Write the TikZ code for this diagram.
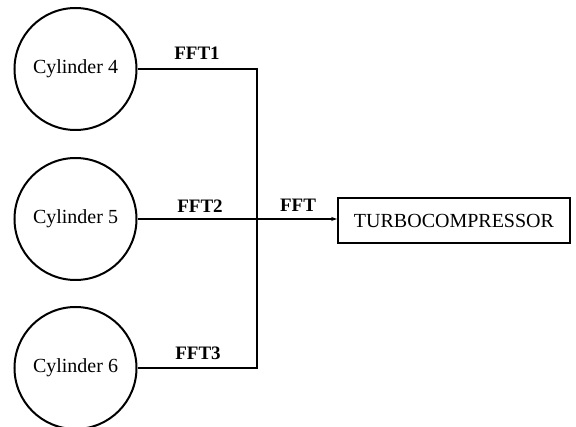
\documentclass[tikz,border=0pt]{standalone}
\usepackage{fontspec}
\setmainfont{Liberation Serif}
\usetikzlibrary{arrows.meta}
\begin{document}
\begin{tikzpicture}[x=1pt,y=-1pt,
  cyl/.style={circle,draw,line width=2pt,minimum size=122pt,inner sep=0pt,font=\fontsize{20}{20}\selectfont},
  comp/.style={draw,line width=1.6pt,minimum width=232pt,minimum height=45pt,inner sep=0pt,font=\fontsize{20}{20}\selectfont},
  flow/.style={line width=1.8pt},
  lbl/.style={font=\fontsize{19}{19}\selectfont\bfseries,inner sep=0pt}]
\useasboundingbox (0,0) rectangle (576,427);
\node[cyl] (c4) at (75.5,69) {Cylinder 4};
\node[cyl] (c5) at (75.5,219) {Cylinder 5};
\node[cyl] (c6) at (75.5,368) {Cylinder 6};
\node[comp] (tc) at (454,220.5) {TURBOCOMPRESSOR};
\coordinate (j1) at (257,69);
\coordinate (j3) at (257,368);
\draw[flow] (c4.east) -- (j1) -- (j3) -- (c6.east);
\draw[flow,-{Stealth[length=6pt,width=4pt]}] (c5.east) -- (tc.west|-c5.east);
\node[lbl] (l1) at (197,53) {FFT1};
\node[lbl] (l2) at (200,206) {FFT2};
\node[lbl] (l3) at (198,353) {FFT3};
\node[lbl] (l0) at (298,205) {FFT};
\end{tikzpicture}
\end{document}
